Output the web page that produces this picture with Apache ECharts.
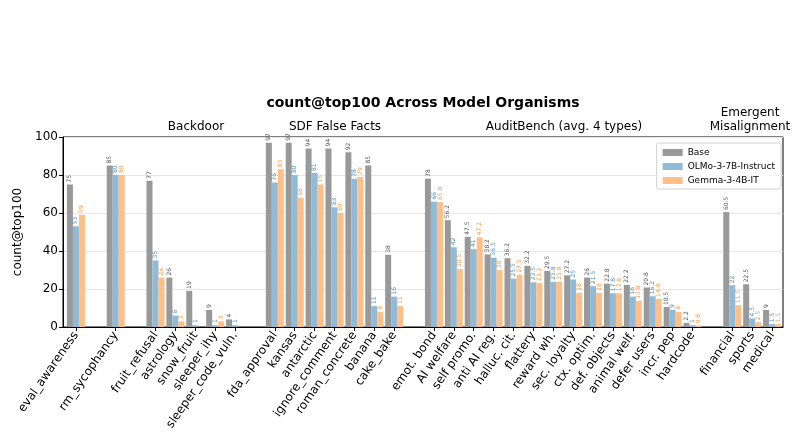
<!DOCTYPE html>
<html>
<head>
<meta charset="utf-8">
<script src="https://cdn.jsdelivr.net/npm/echarts@6/dist/echarts.min.js"></script>
<style>
  html, body { margin: 0; padding: 0; background: #fff; }
  #chart { width: 804px; height: 439px; }
</style>
</head>
<body>
<div id="chart"></div>
<script>
// groups of model organisms ('' = spacer slot between groups)
var categories = [
  'eval_awareness', '', 'rm_sycophancy', '',
  'fruit_refusal', 'astrology', 'snow_fruit', 'sleeper_ihy', 'sleeper_code_vuln.', '',
  'fda_approval', 'kansas', 'antarctic', 'ignore_comment', 'roman_concrete', 'banana', 'cake_bake', '',
  'emot. bond', 'AI welfare', 'self promo.', 'anti AI reg.', 'halluc. cit.', 'flattery', 'reward wh.',
  'sec. loyalty', 'ctx. optim.', 'def. objects', 'animal welf.', 'defer users', 'incr. pep', 'hardcode', '',
  'financial', 'sports', 'medical'
];
var baseVals = [
  75, null, 85, null,
  77, 26, 19, 9, 4, null,
  97, 97, 94, 94, 92, 85, 38, null,
  78, 56.2, 47.5, 38.2, 36.2, 32.2, 29.5, 27.2, 26, 22.8, 22.2, 20.8, 10.5, 2.2, null,
  60.5, 22.5, 9
];
var olmoVals = [
  53, null, 80, null,
  35, 6, 1, 1, 1, null,
  76, 80, 81, 63, 78, 11, 16, null,
  66, 42, 41, 36.5, 25.5, 23.5, 23.8, 25, 21.5, 17.8, 16, 16.2, 9, 1, null,
  22, 4.5, 1.5
];
var gemmaVals = [
  59, null, 80, null,
  26, 3, 0, 3, 0, null,
  83, 68, 75, 60, 79, 8, 11, null,
  65.8, 30.5, 47.2, 30, 27.5, 23.2, 23.8, 18, 18, 17.8, 13.8, 14.8, 8, 0.8, null,
  11.5, 2.5, 1.5
];
var seriesNames = ['Base', 'OLMo-3-7B-Instruct', 'Gemma-3-4B-IT'];
var yTicks = [0, 20, 40, 60, 80, 100];
var groupLabels = ['Backdoor', 'SDF False Facts', 'AuditBench (avg. 4 types)', 'Emergent\nMisalignment'];

var FONT = 'DejaVu Sans';
var barColors = ['#999999', '#8fbbd9', '#ffbf86'];
var labelColors = ['#555555', '#4a8fc4', '#f59a45'];

// positions along x are slot indexes; spacer slots get no tick / label
var tickIdx = [];
categories.forEach(function (c, i) { if (c !== '') tickIdx.push(i); });

var chart = echarts.init(document.getElementById('chart'));

function mkSeries(i, vals) {
  var pts = [];
  vals.forEach(function (v, k) { if (v !== null) pts.push([k, v]); });
  return {
    name: seriesNames[i],
    type: 'bar',
    data: pts,
    barWidth: 6,
    barGap: '0%',
    itemStyle: { color: barColors[i] },
    label: {
      show: true,
      position: 'top',
      rotate: 90,
      align: 'left',
      verticalAlign: 'middle',
      distance: 2,
      fontSize: 6,
      fontFamily: FONT,
      color: labelColors[i],
      formatter: function (p) { return p.value[1] ? String(p.value[1]) : ''; }
    }
  };
}

var groupX = [196, 335, 564, 750];
var groupY = [127, 127, 127, 120];
var graphics = groupLabels.map(function (t, i) {
  return {
    type: 'text', x: groupX[i], y: groupY[i],
    style: { text: t, fontSize: 12, fontFamily: FONT, fill: '#000', align: 'center', verticalAlign: 'middle', lineHeight: 14 }
  };
});
graphics.push({
  type: 'text', x: 423, y: 103,
  style: { text: 'count@top100 Across Model Organisms', fontSize: 14, fontWeight: 'bold', fontFamily: FONT, fill: '#000', align: 'center', verticalAlign: 'middle' }
});

chart.setOption({
  animation: false,
  textStyle: { fontFamily: FONT },
  grid: { left: 63, right: 21, top: 137, bottom: 112, show: true, borderColor: '#000', borderWidth: 1 },
  graphic: graphics,
  legend: {
    data: seriesNames,
    orient: 'vertical',
    right: 23, top: 143,
    icon: 'rect',
    itemWidth: 20, itemHeight: 7,
    itemGap: 5,
    padding: [5, 6, 4, 6],
    borderColor: '#d0d0d0', borderWidth: 1, borderRadius: 2,
    backgroundColor: 'rgba(255,255,255,0.8)',
    textStyle: { fontSize: 9, fontFamily: FONT, color: '#000' }
  },
  xAxis: {
    type: 'value',
    min: -0.65, max: 35.55,
    axisLine: { onZero: false, lineStyle: { color: '#000', width: 1 } },
    axisTick: { show: true, length: 4, lineStyle: { color: '#000' }, customValues: tickIdx },
    axisLabel: {
      customValues: tickIdx,
      rotate: 55, fontSize: 12, fontFamily: FONT, color: '#000', margin: 6,
      formatter: function (v) { return categories[Math.round(v)] || ''; }
    },
    splitLine: { show: false }
  },
  yAxis: {
    type: 'value',
    min: yTicks[0], max: yTicks[yTicks.length - 1], interval: 20,
    name: 'count@top100',
    nameLocation: 'middle',
    nameGap: 36,
    nameTextStyle: { fontSize: 12, fontFamily: FONT, color: '#000' },
    axisLine: { show: true, onZero: false, lineStyle: { color: '#000', width: 1 } },
    axisTick: { show: true, length: 4, lineStyle: { color: '#000' } },
    axisLabel: { fontSize: 12, fontFamily: FONT, color: '#000', margin: 5 },
    splitLine: { show: true, lineStyle: { color: '#e6e6e6', width: 1 } }
  },
  series: [mkSeries(0, baseVals), mkSeries(1, olmoVals), mkSeries(2, gemmaVals)]
});
</script>
</body>
</html>
